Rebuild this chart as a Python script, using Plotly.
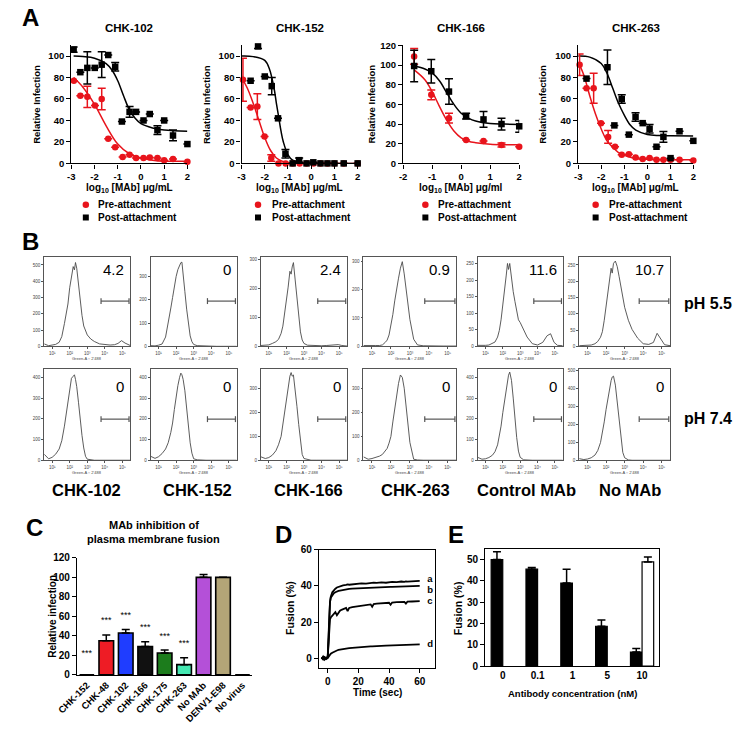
import plotly.graph_objects as go

W, H = 736, 734
FONT = "Liberation Sans, Arial, Helvetica, sans-serif"
RED = "#e8141c"

# ======================= DATA =======================
# ---- Panel A : neutralisation curves ----
a_titles = ["CHK-102", "CHK-152", "CHK-166", "CHK-263"]
a_xtitles = ["log<sub>10</sub> [MAb] μg/mL", "log<sub>10</sub> [MAb] μg/mL",
             "log<sub>10</sub> [MAb] μg/ml", "log<sub>10</sub> [MAb] μg/mL"]
a_series = ["Pre-attachment", "Post-attachment"]

a1_pre_x = [-2.89, -2.61, -2.31, -1.98, -1.69, -1.41, -1.11, -0.79, -0.49, -0.21, 0.11, 0.38, 0.71, 1.0, 1.38, 2.0]
a1_pre_y = [77, 63, 62, 54, 60, 23, 15, 6, 8, 5, 5, 5.5, 5, 3, 4, 1.5]
a1_pre_e = [None, None, 10, None, 10, None, None, None, None, None, None, None, None, None, None, None]
a1_post_x = [-2.9, -2.61, -2.31, -1.99, -1.69, -1.41, -1.11, -0.82, -0.49, -0.21, 0.11, 0.38, 0.71, 1.0, 1.38, 2.0]
a1_post_y = [106, 85, 89, 89, 92, 101, 90, 39, 48, 48, 40, 46, 31, 40, 26, 18]
a1_post_e = [2.5, None, 15, None, 12, None, 4, None, 5, None, None, None, 4, None, 5, None]
a1_fit_pre_x = [-2.9, -2.5, -2.0, -1.5, -1.0, -0.5, 0.0, 0.5, 1.0, 1.5, 2.0]
a1_fit_pre_y = [80, 71, 55, 35, 18, 9, 5, 3, 2, 2, 2]
a1_fit_post_x = [-2.9, -2.5, -2.0, -1.5, -1.25, -1.0, -0.75, -0.5, -0.25, 0.0, 0.5, 1.0, 2.0]
a1_fit_post_y = [100, 99.5, 98, 93, 87, 77, 63, 50, 42, 37, 33, 31, 30]

a2_pre_x = [-2.94, -2.61, -2.32, -2.01, -1.72, -1.41, -1.1, -0.8, -0.5, -0.2, 0.1, 0.4, 0.7, 1.0, 1.4, 2.0]
a2_pre_y = [78, 52, 53, 25, 5, 0, 0, 0, 0, 0, 0, 0, 0, 0, 0, 0]
a2_pre_e = [20, None, 12, None, 3, None, None, None, None, None, None, None, None, None, None, None]
a2_post_x = [-2.61, -2.29, -2.0, -1.7, -1.43, -1.11, -0.8, -0.52, -0.2, 0.09, 0.4, 0.7, 1.0, 1.4, 2.0]
a2_post_y = [77, 109, 81, 72, 42, 9, 0, 3, 0, 1, 0, 0, 0, 0, 0]
a2_post_e = [None, 2, None, 8, None, 4, None, 2, None, None, None, None, None, None, None]
a2_fit_pre_x = [-3.0, -2.75, -2.5, -2.25, -2.0, -1.75, -1.5, -1.25, -1.0, -0.5, 0.0, 1.0, 2.0]
a2_fit_pre_y = [80, 70, 56, 40, 24, 12, 5, 2, 0.7, 0.1, 0, 0, 0]
a2_fit_post_x = [-3.0, -2.5, -2.0, -1.8, -1.6, -1.5, -1.4, -1.3, -1.2, -1.0, -0.8, -0.5, 0.0, 2.0]
a2_fit_post_y = [100, 99.5, 96, 88, 70, 56, 43, 30, 20, 8, 3, 0.8, 0, 0]

a3_pre_x = [-1.62, -1.03, -0.42, 0.17, 0.77, 1.39, 2.0]
a3_pre_y = [108.7, 69.7, 46, 23.7, 22.7, 18.7, 17]
a3_pre_e = [8, 5, 5, None, None, 2, None]
a3_post_x = [-1.62, -1.03, -0.42, 0.17, 0.77, 1.39, 2.0]
a3_post_y = [99, 93.7, 73, 48, 44.7, 40, 37.7]
a3_post_e = [16, 12, 13, 3, 8, 6, 6]
a3_fit_pre_x = [-1.62, -1.25, -1.0, -0.75, -0.5, -0.25, 0.0, 0.25, 0.5, 1.0, 1.5, 2.0]
a3_fit_pre_y = [95, 85, 73, 58, 44, 33, 26, 22.5, 21, 19.5, 19, 19]
a3_fit_post_x = [-1.62, -1.25, -1.0, -0.75, -0.5, -0.25, 0.0, 0.25, 0.5, 1.0, 1.5, 2.0]
a3_fit_post_y = [99, 96, 92, 84, 72, 60, 51, 46, 43, 40.5, 40, 39.5]

a4_pre_x = [-2.94, -2.64, -2.33, -2.01, -1.70, -1.40, -1.11, -0.8, -0.51, -0.2, 0.1, 0.4, 0.7, 1.01, 1.4, 2.0]
a4_pre_y = [92, 70, 70, 37.5, 24.7, 15.5, 8, 8.5, 5.5, 4, 5, 3.4, 3.4, 3.4, 3.4, 2.7]
a4_pre_e = [10, None, 14, None, 6, None, None, None, None, None, None, None, None, None, None, None]
a4_post_x = [-2.64, -1.73, -1.43, -1.11, -0.8, -0.51, -0.2, 0.1, 0.4, 0.7, 1.01, 1.4, 2.0]
a4_post_y = [79, 89.6, 35.4, 60, 26.8, 43.3, 37.5, 32.3, 15.5, 24.7, 4.9, 29.9, 21]
a4_post_e = [None, 16, None, 4, None, 4, None, 4, None, 5, None, None, None]
a4_fit_pre_x = [-2.95, -2.75, -2.5, -2.25, -2.0, -1.75, -1.5, -1.25, -1.0, -0.5, 0.0, 1.0, 2.0]
a4_fit_pre_y = [92, 82, 63, 46, 32, 21, 15, 10, 7.5, 4.5, 3.8, 3.5, 3.5]
a4_fit_post_x = [-3.0, -2.5, -2.0, -1.75, -1.5, -1.25, -1.0, -0.75, -0.5, 0.0, 0.5, 1.0, 2.0]
a4_fit_post_y = [100, 99, 93, 84, 70, 56, 45, 36, 31, 27, 26, 25.8, 25.5]

# ---- Panel B : flow cytometry histograms (x = log10 fluorescence) ----
b_names = ["CHK-102", "CHK-152", "CHK-166", "CHK-263", "Control MAb", "No MAb"]
b_rows = ["pH 5.5", "pH 7.4"]
b_pct_55 = ["4.2", "0", "2.4", "0.9", "11.6", "10.7"]
b_pct_74 = ["0", "0", "0", "0", "0", "0"]
b_ymax_55 = [550, 385, 310, 315, 270, 275]
b_ymax_74 = [440, 440, 380, 380, 440, 510]
b_dtick_55 = [100, 100, 100, 100, 50, 50]
b_dtick_74 = [100, 100, 100, 100, 100, 100]
b_xticks = ["10¹", "10²", "10³", "10⁴", "10⁵"]
b_xtitle = "Green-A :: 2'488"
hx = [0.55, 0.8, 1.0, 1.2, 1.4, 1.55, 1.7, 1.8, 1.9, 2.0, 2.1, 2.2, 2.27, 2.33, 2.4, 2.5,
      2.6, 2.7, 2.8, 2.9, 3.0, 3.2, 3.4, 3.7, 4.0, 4.3, 4.55, 4.75, 4.95, 5.15, 5.45]
h55_1 = [15, 4, 8, 12, 25, 60, 140, 205, 260, 360, 440, 490, 470, 515, 480, 380,
         270, 190, 125, 95, 70, 45, 30, 15, 10, 8, 10, 18, 35, 20, 5]
h55_2 = [3, 2, 5, 10, 40, 95, 165, 210, 260, 300, 330, 350, 360, 362, 320, 235,
         160, 95, 45, 20, 8, 3, 2, 1, 1, 0, 0, 0, 0, 0, 0]
h55_3 = [3, 3, 5, 10, 16, 24, 45, 70, 110, 155, 205, 260, 250, 275, 290, 230,
         160, 95, 50, 22, 10, 4, 3, 2, 2, 3, 5, 7, 6, 3, 1]
h55_4 = [3, 2, 2, 3, 3, 5, 14, 22, 40, 70, 112, 160, 195, 215, 240, 275,
         298, 255, 200, 140, 95, 25, 5, 2, 1, 1, 1, 1, 1, 1, 1]
h55_5 = [3, 2, 3, 4, 8, 13, 28, 48, 80, 120, 168, 215, 250, 232, 250, 205,
         165, 135, 100, 80, 72, 52, 28, 8, 4, 12, 32, 38, 12, 3, 2]
h55_6 = [2, 2, 3, 4, 8, 15, 28, 45, 80, 120, 168, 200, 240, 225, 255, 262,
         245, 215, 180, 145, 120, 80, 52, 25, 8, 6, 12, 40, 22, 5, 2]
h74_1 = [30, 8, 15, 30, 55, 95, 165, 225, 290, 350, 395, 405, 412, 390, 355, 280,
         190, 120, 60, 20, 6, 2, 1, 1, 1, 1, 1, 1, 1, 1, 1]
h74_2 = [20, 10, 18, 33, 55, 85, 135, 180, 245, 310, 360, 400, 420, 412, 390, 335,
         250, 165, 85, 35, 8, 3, 1, 1, 1, 1, 1, 1, 1, 1, 1]
h74_3 = [15, 8, 12, 22, 40, 65, 100, 150, 210, 265, 310, 350, 365, 350, 355, 300,
         225, 150, 80, 25, 8, 3, 1, 1, 1, 1, 1, 1, 1, 1, 1]
h74_4 = [15, 5, 8, 12, 18, 25, 38, 50, 72, 100, 160, 215, 260, 290, 320, 355,
         345, 300, 230, 150, 75, 5, 2, 1, 1, 1, 1, 1, 1, 1, 1]
h74_5 = [15, 6, 8, 14, 25, 42, 75, 115, 165, 230, 290, 350, 390, 410, 425, 385,
         300, 200, 110, 45, 15, 3, 1, 1, 1, 1, 1, 1, 1, 1, 1]
h74_6 = [10, 5, 8, 15, 30, 55, 100, 150, 215, 285, 350, 410, 445, 465, 470, 420,
         320, 210, 115, 45, 15, 3, 1, 1, 1, 1, 1, 1, 1, 1, 1]

# ---- Panel C : bar chart ----
c_labels = ["CHK-152", "CHK-48", "CHK-102", "CHK-166", "CHK-175", "CHK-263", "No MAb", "DENV1-E98", "No virus"]
c_values = [0, 35, 43, 29, 22.5, 10.5, 100, 100, 0]
c_errors = [None, 6, 3.5, 5, 3, 7, 3, None, None]
c_colors = ["#000000", "#ee1c25", "#1f3dff", "#111111", "#1c7c1c", "#45e8b2", "#b450d8", "#b3a577", "#000000"]
c_signif = ["***", "***", "***", "***", "***", "***", "", "", ""]

# ---- Panel D : fusion kinetics ----
d_time = [-4, -3, -2, -1, 0, 0.5, 1, 1.5, 2, 3, 4, 5, 6, 7, 8, 9, 10, 12, 13, 14, 16, 18, 20, 22,
          25, 28, 29, 30, 32, 35, 38, 40, 41, 42, 45, 48, 50, 51, 52, 55, 58, 60]
d_a = [-0.5, 0.8, -0.8, 0.3, 0.5, 8, 22, 31, 34, 36.5, 37.8, 38.5, 39.2, 39.5, 39.9, 40.0, 40.4, 40.6, 40.9, 40.7,
       41.0, 41.3, 41.2, 41.5, 41.3, 41.7, 41.5, 41.9, 41.7, 42.0, 41.8, 42.2, 42.0, 42.3, 42.1, 42.5, 42.3, 42.6,
       42.4, 42.6, 42.5, 42.8]
d_b = [-0.3, 0.5, -0.5, 0.2, 0.5, 9, 23, 31, 33.5, 35.2, 36.0, 36.5, 37.0, 37.3, 37.5, 37.7, 37.9, 38.2, 38.3,
       38.4, 38.6, 38.7, 38.8, 38.9, 39.0, 39.1, 39.1, 39.2, 39.25, 39.3, 39.4, 39.45, 39.5, 39.5, 39.6, 39.7,
       39.75, 39.8, 39.8, 39.9, 40.0, 40.1]
d_c = [0.3, -0.5, 0.5, -0.3, 0.3, 7, 17, 21.5, 22.5, 23.5, 24.5, 25.5, 23.8, 25.5, 26.3, 26.8, 27.2, 27.8, 26.0,
       27.8, 28.3, 28.6, 28.8, 29.0, 29.3, 29.8, 28.5, 30.0, 30.2, 30.4, 30.6, 30.7, 29.6, 30.8, 31.0, 31.1,
       31.2, 30.2, 31.3, 31.4, 31.5, 31.6]
d_d = [0.3, -0.8, 0.5, -0.5, 0.0, 0.8, 1.5, 2.0, 2.4, 3.0, 3.5, 3.9, 4.2, 4.5, 4.7, 4.9, 5.0, 5.3, 5.4, 5.5,
       5.7, 5.9, 6.0, 6.1, 6.3, 6.5, 6.5, 6.6, 6.7, 6.8, 6.95, 7.0, 7.05, 7.1, 7.2, 7.3, 7.35, 7.4, 7.4, 7.5,
       7.55, 7.6]
d_names = ["a", "b", "c", "d"]

# ---- Panel E : fusion vs antibody concentration ----
e_cats = ["0", "0.1", "1", "5", "10"]
e_black = [50, 45.5, 39, 18.7, 6.6]
e_black_err = [3.7, 0.8, 6.5, 2.9, 1.6]
e_white = [None, None, None, None, 48.9]
e_white_err = [None, None, None, None, 2.3]

# ======================= HELPERS =======================
def fx(p):
    return p / W


def fy(p):
    return 1 - p / H


fig = go.Figure()
LAY = {}
ANN = []
SHP = []
_n = [0]


def add_axes(x0, x1, ytop, ybot, xa, ya):
    _n[0] += 1
    i = _n[0]
    s = '' if i == 1 else str(i)
    LAY['xaxis' + s] = dict(xa, domain=[fx(x0), fx(x1)], anchor='y' + s)
    LAY['yaxis' + s] = dict(ya, domain=[fy(ybot), fy(ytop)], anchor='x' + s)
    return 'x' + s, 'y' + s


def txt(x, y, s, size, bold=True, color='black', xa='center', ya='middle', angle=0):
    ANN.append(dict(x=fx(x), y=fy(y), xref='paper', yref='paper', text=s,
                    showarrow=False, xanchor=xa, yanchor=ya, textangle=angle,
                    font=dict(family=FONT, size=size, color=color,
                              weight='bold' if bold else 'normal')))


def prism(rng, dtick=None, fs=9.5, lw=1.4, **kw):
    d = dict(range=rng, showline=True, linecolor='black', linewidth=lw,
             ticks='outside', ticklen=4, tickwidth=lw, tickcolor='black',
             showgrid=False, zeroline=False, fixedrange=True,
             tickfont=dict(family=FONT, size=fs, color='black', weight='bold'))
    if dtick is not None:
        d.update(dtick=dtick, tick0=0)
    d.update(kw)
    return d


def line_px(x0, y0, x1, y1, color='#555', width=1.2):
    SHP.append(dict(type='line', xref='paper', yref='paper', x0=fx(x0), y0=fy(y0),
                    x1=fx(x1), y1=fy(y1), line=dict(color=color, width=width)))

# ======================= PANEL A =======================
a_data = [
    (a1_pre_x, a1_pre_y, a1_pre_e, a1_post_x, a1_post_y, a1_post_e, a1_fit_pre_x, a1_fit_pre_y, a1_fit_post_x, a1_fit_post_y),
    (a2_pre_x, a2_pre_y, a2_pre_e, a2_post_x, a2_post_y, a2_post_e, a2_fit_pre_x, a2_fit_pre_y, a2_fit_post_x, a2_fit_post_y),
    (a3_pre_x, a3_pre_y, a3_pre_e, a3_post_x, a3_post_y, a3_post_e, a3_fit_pre_x, a3_fit_pre_y, a3_fit_post_x, a3_fit_post_y),
    (a4_pre_x, a4_pre_y, a4_pre_e, a4_post_x, a4_post_y, a4_post_e, a4_fit_pre_x, a4_fit_pre_y, a4_fit_post_x, a4_fit_post_y),
]
# x0, x1, xmin, xmax, ymax, title-x, ytitle-x, legend marker x, legend text x
a_geom = [
    (52, 172, -3, 2, 110, 112, 16, 67, 78),
    (228, 348, -3, 2, 110, 288, 192, 245, 257),
    (395, 515, -2, 2, 120, 455, 362, 418, 429),
    (576, 695, -3, 2, 110, 636, 539, 594, 606),
]
legend_pts = []
for k in range(4):
    x0, x1, xmin, xmax, ymax, tcx, ytx, lmx, ltx = a_geom[k]
    ticks = list(range(xmin, xmax + 1))
    xa = prism([xmin, xmax], fs=9.5, tickvals=ticks, ticktext=[str(t) for t in ticks])
    ya = prism([0, ymax], 20, fs=9.5)
    xr, yr = add_axes(x0, x1, 40, 160, xa, ya)
    px_, py_, pe_, qx_, qy_, qe_, fpx, fpy, fqx, fqy = a_data[k]
    fig.add_trace(go.Scatter(x=fpx, y=fpy, mode='lines', line=dict(color=RED, width=1.5, shape='spline'),
                             xaxis=xr, yaxis=yr, hoverinfo='skip', cliponaxis=False))
    fig.add_trace(go.Scatter(x=fqx, y=fqy, mode='lines', line=dict(color='black', width=1.5, shape='spline'),
                             xaxis=xr, yaxis=yr, hoverinfo='skip', cliponaxis=False))
    fig.add_trace(go.Scatter(x=px_, y=py_, mode='markers', name=a_series[0],
                             marker=dict(symbol='circle', size=6.5, color=RED),
                             error_y=dict(type='data', array=pe_, color=RED, thickness=1.5, width=4),
                             xaxis=xr, yaxis=yr, cliponaxis=False))
    fig.add_trace(go.Scatter(x=qx_, y=qy_, mode='markers', name=a_series[1],
                             marker=dict(symbol='square', size=6.5, color='black'),
                             error_y=dict(type='data', array=qe_, color='black', thickness=1.5, width=4),
                             xaxis=xr, yaxis=yr, cliponaxis=False))
    txt(tcx, 22, a_titles[k], 11.5)
    txt(ytx, 100, "Relative Infection", 9.5, angle=-90)
    txt((x0 + x1) / 2, 185, a_xtitles[k], 10)
    legend_pts.append(lmx)
    txt(ltx, 202, a_series[0], 10, xa='left')
    txt(ltx, 215, a_series[1], 10, xa='left')

# ======================= PANEL B =======================
b_cols = [(24, 113), (134, 223), (248, 337), (354, 450), (472, 560), (577, 671)]
b_rowsy = [(255, 346), (369, 462)]
b_hist = [[h55_1, h55_2, h55_3, h55_4, h55_5, h55_6], [h74_1, h74_2, h74_3, h74_4, h74_5, h74_6]]
b_pct = [b_pct_55, b_pct_74]
b_ymax = [b_ymax_55, b_ymax_74]
b_dtick = [b_dtick_55, b_dtick_74]
GR = '#555555'
for r in range(2):
    top, bot = b_rowsy[r]
    for c in range(6):
        x0, x1 = b_cols[c]
        xa = dict(range=[0.55, 5.45], tickvals=[1, 2, 3, 4, 5], ticktext=b_xticks,
                  showline=True, mirror=True, linecolor=GR, linewidth=0.9,
                  ticks='outside', ticklen=2, tickwidth=0.6, tickcolor=GR,
                  showgrid=False, zeroline=False, fixedrange=True,
                  tickfont=dict(family=FONT, size=4.5, color='#444'))
        ya = dict(range=[0, b_ymax[r][c]], dtick=b_dtick[r][c], tick0=0,
                  showline=True, mirror=True, linecolor=GR, linewidth=0.9,
                  ticks='outside', ticklen=2, tickwidth=0.6, tickcolor=GR,
                  showgrid=False, zeroline=False, fixedrange=True,
                  tickfont=dict(family=FONT, size=4.5, color='#444'))
        xr, yr = add_axes(x0, x1, top, bot, xa, ya)
        fig.add_trace(go.Scatter(x=hx, y=b_hist[r][c], mode='lines',
                                 line=dict(color='#4a4a4a', width=0.9),
                                 xaxis=xr, yaxis=yr, hoverinfo='skip'))
        w = x1 - x0
        gy = 300 if r == 0 else 420
        g0, g1 = x0 + 0.66 * w, x0 + 0.985 * w
        line_px(g0, gy, g1, gy)
        line_px(g0, gy - 3, g0, gy + 3)
        line_px(g1, gy - 3, g1, gy + 3)
        txt(x1 - 4, top + (13 if r == 0 else 18), b_pct[r][c], 15, bold=False, xa='right')
        txt((x0 + x1) / 2, bot + 12, b_xtitle, 4, bold=False, color='#444')
b_label_x = [68, 182, 297, 408, 523, 630]
for c in range(6):
    txt(b_label_x[c], 492, b_names[c], 16.5)
txt(683, 302, b_rows[0], 16, xa='left')
txt(683, 419, b_rows[1], 16, xa='left')

# ======================= PANEL C =======================
xa = prism([-0.5, 8.5], fs=9.5, type='category', ticks='', tickangle=-45)
ya = prism([0, 120], 20, fs=10)
xr, yr = add_axes(58, 239, 561, 680, xa, ya)
fig.add_trace(go.Bar(x=c_labels, y=c_values, width=0.75,
                     marker=dict(color=c_colors, line=dict(color='black', width=1.6)),
                     error_y=dict(type='data', array=c_errors, arrayminus=[0] * len(c_labels),
                                  symmetric=False, color='black', thickness=1.5, width=4),
                     xaxis=xr, yaxis=yr))
star_y = [max((v + (e or 0)) + 14, 22) for v, e in zip(c_values, c_errors)]
fig.add_trace(go.Scatter(x=c_labels[:6], y=star_y[:6], mode='text', text=c_signif[:6],
                         textfont=dict(family=FONT, size=9, color='black'),
                         xaxis=xr, yaxis=yr, hoverinfo='skip', cliponaxis=False))
txt(137, 528, "MAb inhibition of", 11)
txt(137, 542, "plasma membrane fusion", 11)
txt(33, 620, "Relative infection", 10, angle=-90)

# ======================= PANEL D =======================
xa = prism([-5.7, 70], 20, fs=10, mirror=True)
ya = prism([-5.5, 60], 20, fs=10, mirror=True)
xr, yr = add_axes(308, 428, 553, 673, xa, ya)
for series in (d_a, d_b, d_c, d_d):
    fig.add_trace(go.Scatter(x=d_time, y=series, mode='lines', line=dict(color='black', width=1.8),
                             xaxis=xr, yaxis=yr, hoverinfo='skip'))
d_label_y = [43.6, 37.4, 31.3, 7.3]
fig.add_trace(go.Scatter(x=[65] * 4, y=d_label_y, mode='text', text=d_names, textposition='middle right',
                         textfont=dict(family=FONT, size=9.5, color='black', weight='bold'),
                         xaxis=xr, yaxis=yr, hoverinfo='skip', cliponaxis=False))
txt(368, 698, "Time (sec)", 10)
txt(278, 612, "Fusion (%)", 10.5, angle=-90)

# ======================= PANEL E =======================
xa = prism([-0.5, 4.5], fs=10, type='category', ticks='', mirror=True)
ya = prism([0, 55], 10, fs=10, mirror=True)
xr, yr = add_axes(480, 660, 552, 671, xa, ya)
fig.add_trace(go.Bar(x=e_cats, y=e_black, width=1 / 3, offset=-1 / 3,
                     marker=dict(color='black', line=dict(color='black', width=1.2)),
                     error_y=dict(type='data', array=e_black_err, arrayminus=[0] * 5, symmetric=False,
                                  color='black', thickness=1.5, width=4),
                     xaxis=xr, yaxis=yr))
fig.add_trace(go.Bar(x=e_cats, y=e_white, width=1 / 3, offset=0,
                     marker=dict(color='white', line=dict(color='black', width=1.2)),
                     error_y=dict(type='data', array=e_white_err, arrayminus=[0] * 5, symmetric=False,
                                  color='black', thickness=1.5, width=4),
                     xaxis=xr, yaxis=yr))
txt(570, 699, "Antibody concentration (nM)", 9.5)
txt(452, 612, "Fusion (%)", 10.5, angle=-90)

# ======================= LEGEND MARKERS (overlay in pixel space) =======================
xo, yo = add_axes(0, W, 0, H, dict(range=[0, W], visible=False, fixedrange=True),
                  dict(range=[H, 0], visible=False, fixedrange=True))
fig.add_trace(go.Scatter(x=legend_pts, y=[202] * 4, mode='markers',
                         marker=dict(symbol='circle', size=6.5, color=RED),
                         xaxis=xo, yaxis=yo, hoverinfo='skip', cliponaxis=False))
fig.add_trace(go.Scatter(x=legend_pts, y=[215] * 4, mode='markers',
                         marker=dict(symbol='square', size=6, color='black'),
                         xaxis=xo, yaxis=yo, hoverinfo='skip', cliponaxis=False))

# ======================= PANEL LABELS =======================
txt(10, 12, "A", 24)
txt(10, 239, "B", 24)
txt(14, 530, "C", 24)
txt(271, 537, "D", 24)
txt(450, 537, "E", 24)

fig.update_layout(width=W, height=H, margin=dict(l=0, r=0, t=0, b=0),
                  paper_bgcolor='white', plot_bgcolor='rgba(0,0,0,0)', showlegend=False,
                  barmode='overlay', annotations=ANN, shapes=SHP,
                  font=dict(family=FONT, color='black'), **LAY)

fig.write_html("out.html", config={'displayModeBar': False},
               post_script="document.body.style.margin='0';document.body.style.overflow='hidden';")
